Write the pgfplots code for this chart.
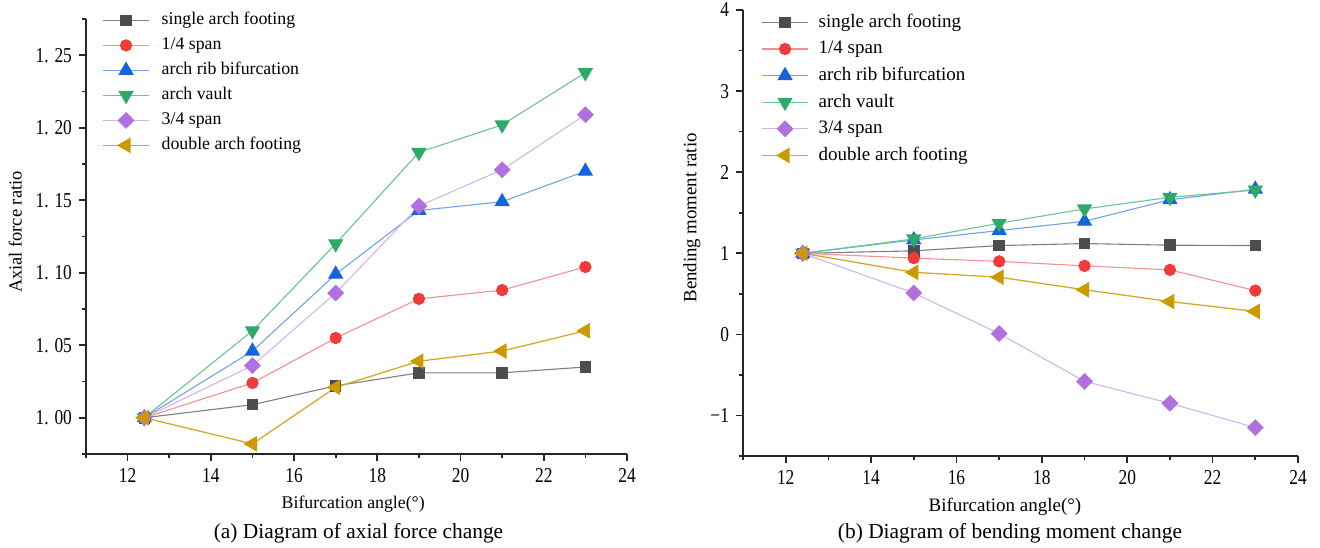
\documentclass[border=0pt]{standalone}
\usepackage{fontspec}
\setmainfont{Liberation Serif}
\newfontfamily\tickfont[FakeStretch=0.82]{Liberation Serif}
\usepackage{pgfplots}
\pgfplotsset{compat=1.18}

\definecolor{cA}{HTML}{4D4D4D}\definecolor{lA}{HTML}{7F7F7F}
\definecolor{cB}{HTML}{F23A3A}\definecolor{lB}{HTML}{F59090}
\definecolor{cC}{HTML}{1464DC}\definecolor{lC}{HTML}{6FA3EE}
\definecolor{cD}{HTML}{2FA86A}\definecolor{lD}{HTML}{6CC393}
\definecolor{cE}{HTML}{B070E0}\definecolor{lE}{HTML}{D5B3F0}
\definecolor{cF}{HTML}{CC9900}\definecolor{lF}{HTML}{D6A82A}

\pgfplotsset{
  sA/.style={color=lA, line width=0.55pt, mark=square*, mark size=2.6pt, mark options={fill=cA, draw=cA}},
  sB/.style={color=lB, line width=0.55pt, mark=*, mark size=2.8pt, mark options={fill=cB, draw=cB}},
  sC/.style={color=lC, line width=0.55pt, mark=triangle*, mark size=3.9pt, mark options={fill=cC, draw=cC}},
  sD/.style={color=lD, line width=0.55pt, mark=triangle*, mark size=3.9pt, mark options={rotate=180, fill=cD, draw=cD}},
  sE/.style={color=lE, line width=0.55pt, mark=square*, mark size=2.7pt, mark options={rotate=45, fill=cE, draw=cE}},
  sF/.style={color=lF, line width=0.65pt, mark=triangle*, mark size=3.9pt, mark options={rotate=90, fill=cF, draw=cF}},
  base/.style={
    scale only axis,
    xmin=11, xmax=24,
    xtick={12,14,...,24},
    xticklabels={12,14,16,18,20,22,24},
    minor xtick={11,13,...,23},
    axis x line*=bottom, axis y line*=left,
    axis line style={line width=0.85pt, color=black!85, -},
    every tick/.style={line width=0.85pt, color=black!85},
    tick align=outside,
    major tick length=3.5pt, minor tick length=2pt,
    ticklabel style={font=\tickfont\fontsize{10.6}{12}\selectfont},
    legend cell align=left,
    legend image code/.code={\draw[mark repeat=2,mark phase=2] plot coordinates {(0pt,0pt) (11.5pt,0pt) (23pt,0pt)};},
  },
}

\begin{document}
\begin{tikzpicture}
\useasboundingbox (-43pt,-46.5pt) rectangle (617pt,227pt);

% (a) axial force
\begin{axis}[base,
  at={(0pt,0pt)}, anchor=south west,
  width=270.5pt, height=217.5pt,
  ymin=0.975, ymax=1.275,
  ytick={1,1.05,1.10,1.15,1.20,1.25},
  yticklabels={1. 00,1. 05,1. 10,1. 15,1. 20,1. 25},
  minor ytick={0.975,1.025,1.075,1.125,1.175,1.225,1.275},
  xlabel={Bifurcation angle(°)},
  ylabel={Axial force ratio},
  xlabel style={font=\fontsize{8.9}{10}\selectfont, at={(axis description cs:0.494,-0.115)}, anchor=center},
  ylabel style={font=\fontsize{9.2}{10}\selectfont, at={(axis description cs:-0.131,0.51)}, anchor=center},
  legend style={draw=none, fill=none, inner sep=0pt, at={(rel axis cs:0,1)}, anchor=north west,
    xshift=8pt, yshift=3.75pt, column sep=6pt, row sep=4pt,
    nodes={inner sep=0pt, text height=6.5pt, text depth=2pt, font=\fontsize{8.9}{10}\selectfont}},
]
\addplot[sA] coordinates {(12.4,1.000) (15,1.009) (17,1.022) (19,1.031) (21,1.031) (23,1.035)};
\addlegendentry{single arch footing}
\addplot[sB] coordinates {(12.4,1.000) (15,1.024) (17,1.055) (19,1.082) (21,1.088) (23,1.104)};
\addlegendentry{1/4 span}
\addplot[sC] coordinates {(12.4,1.000) (15,1.046) (17,1.099) (19,1.143) (21,1.149) (23,1.170)};
\addlegendentry{arch rib bifurcation}
\addplot[sD] coordinates {(12.4,1.000) (15,1.060) (17,1.120) (19,1.183) (21,1.202) (23,1.238)};
\addlegendentry{arch vault}
\addplot[sE] coordinates {(12.4,1.000) (15,1.036) (17,1.086) (19,1.146) (21,1.171) (23,1.209)};
\addlegendentry{3/4 span}
\addplot[sF] coordinates {(12.4,1.000) (15,0.982) (17,1.021) (19,1.039) (21,1.046) (23,1.060)};
\addlegendentry{double arch footing}
\end{axis}

% (b) bending moment
\begin{axis}[base,
  at={(328.5pt,-1pt)}, anchor=south west,
  width=277.5pt, height=223pt,
  ymin=-1.5, ymax=4,
  ytick={-1,0,1,2,3,4},
  yticklabels={−1,0,1,2,3,4},
  minor ytick={-1.5,-0.5,0.5,1.5,2.5,3.5},
  xlabel={Bifurcation angle(°)},
  ylabel={Bending moment ratio},
  xlabel style={font=\fontsize{9.5}{10}\selectfont, at={(axis description cs:0.472,-0.114)}, anchor=center},
  ylabel style={font=\fontsize{9.4}{10}\selectfont, at={(axis description cs:-0.092,0.534)}, anchor=center},
  legend style={draw=none, fill=none, inner sep=0pt, at={(rel axis cs:0,1)}, anchor=north west,
    xshift=9pt, yshift=-1.5pt, column sep=5pt, row sep=4.3pt,
    nodes={inner sep=0pt, text height=6.9pt, text depth=2.1pt, font=\fontsize{9.5}{10}\selectfont}},
]
\addplot[sA] coordinates {(12.4,1.000) (15,1.030) (17,1.095) (19,1.120) (21,1.100) (23,1.095)};
\addlegendentry{single arch footing}
\addplot[sB] coordinates {(12.4,1.000) (15,0.940) (17,0.900) (19,0.845) (21,0.795) (23,0.540)};
\addlegendentry{1/4 span}
\addplot[sC] coordinates {(12.4,1.000) (15,1.165) (17,1.280) (19,1.395) (21,1.660) (23,1.790)};
\addlegendentry{arch rib bifurcation}
\addplot[sD] coordinates {(12.4,1.000) (15,1.177) (17,1.370) (19,1.547) (21,1.690) (23,1.780)};
\addlegendentry{arch vault}
\addplot[sE] coordinates {(12.4,1.000) (15,0.510) (17,0.010) (19,-0.580) (21,-0.850) (23,-1.150)};
\addlegendentry{3/4 span}
\addplot[sF] coordinates {(12.4,1.000) (15,0.765) (17,0.705) (19,0.550) (21,0.405) (23,0.283)};
\addlegendentry{double arch footing}
\end{axis}

\node[font=\fontsize{10.7}{12}\selectfont] at (136.25pt,-39.5pt) {(a) Diagram of axial force change};
\node[font=\fontsize{10.7}{12}\selectfont] at (462pt,-39.5pt) {(b) Diagram of bending moment change};
\end{tikzpicture}
\end{document}
